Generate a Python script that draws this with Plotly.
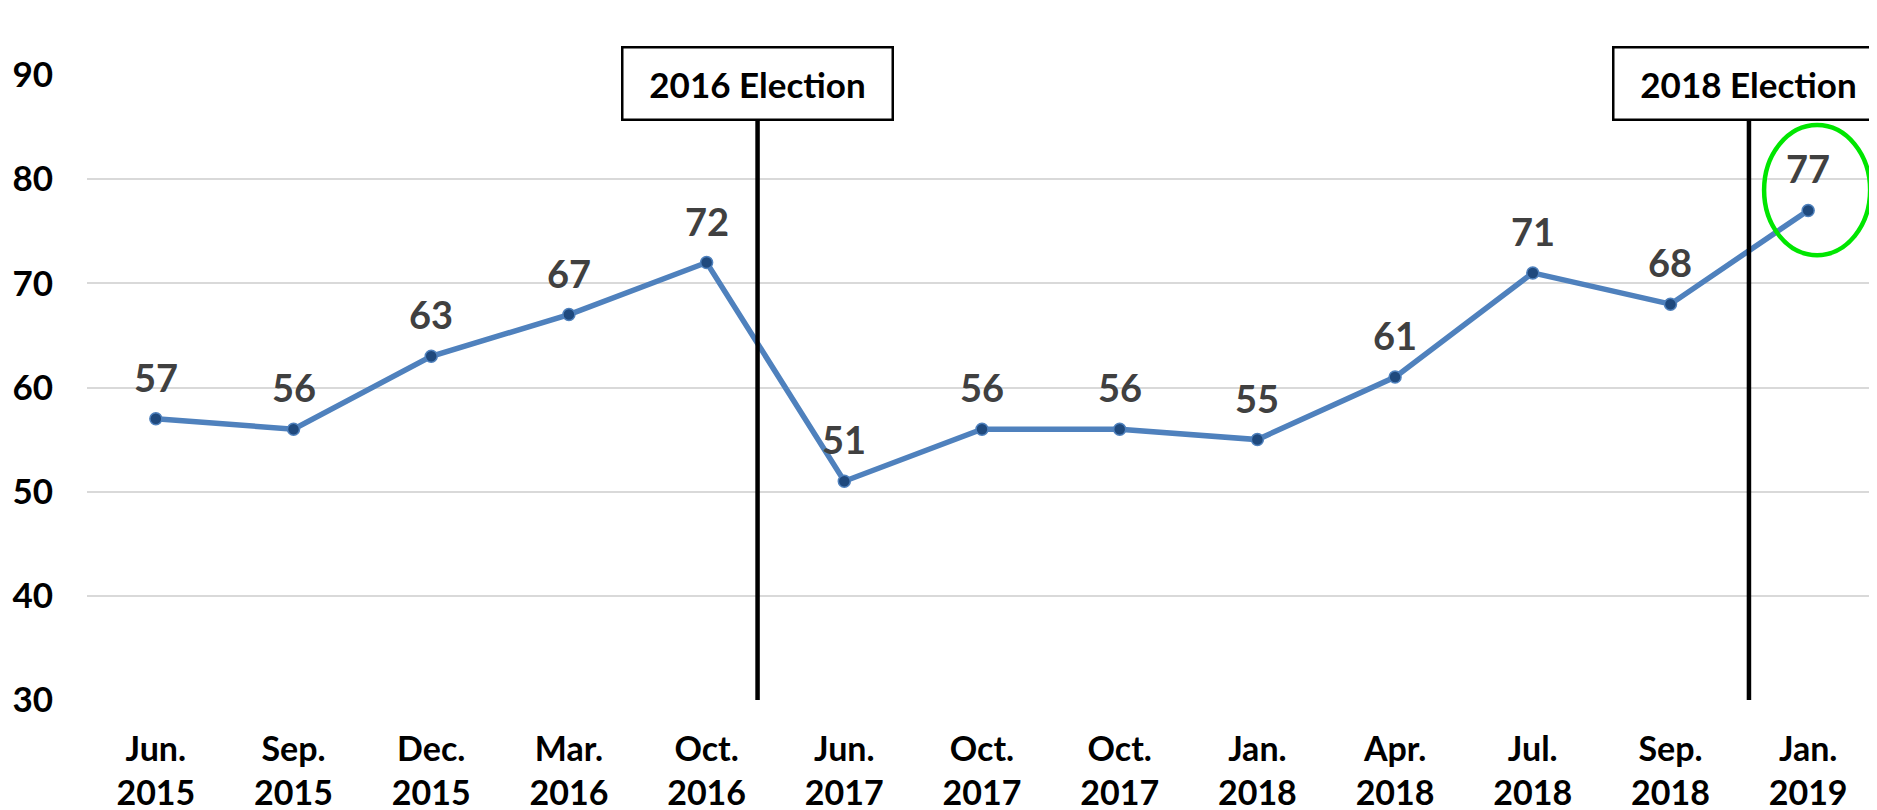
import plotly.graph_objects as go

# survey waves and values
months = ["Jun.", "Sep.", "Dec.", "Mar.", "Oct.", "Jun.", "Oct.", "Oct.",
          "Jan.", "Apr.", "Jul.", "Sep.", "Jan."]
years = ["2015", "2015", "2015", "2016", "2016", "2017", "2017", "2017",
         "2018", "2018", "2018", "2018", "2019"]
values = [57, 56, 63, 67, 72, 51, 56, 56, 55, 61, 71, 68, 77]

# elections fall between survey waves (fractional category position)
election_labels = ["2016 Election", "2018 Election"]
election_pos = [4.37, 11.57]

FONT = "Lato"
idx = list(range(len(values)))
ticktext = [f"{m}<br>{y}" for m, y in zip(months, years)]

fig = go.Figure()

fig.add_trace(go.Scatter(
    x=idx, y=values,
    mode="lines+markers",
    line=dict(color="#4F81BD", width=5.5),
    marker=dict(size=12, color="#1F497D", line=dict(color="#4F81BD", width=1.5)),
    showlegend=False,
    hoverinfo="skip",
))

# data labels above each point
for i, v in zip(idx, values):
    fig.add_annotation(
        x=i, y=v, text=str(v), showarrow=False, yshift=42,
        font=dict(family=FONT, size=38, color="#404040", weight="bold"),
    )

# election markers: vertical line + boxed label on top
for lab, pos in zip(election_labels, election_pos):
    fig.add_shape(type="line", xref="x", yref="paper", x0=pos, x1=pos, y0=0, y1=1,
                  line=dict(color="black", width=4.5))
    fig.add_annotation(
        x=pos, xref="x", y=1.0464, yref="paper", text=lab, showarrow=False,
        width=268, height=70, borderpad=0, borderwidth=2.5,
        bordercolor="black", bgcolor="white",
        font=dict(family=FONT, size=35, color="black", weight="bold"),
    )

# green ellipse highlighting the latest value
last = len(values) - 1
fig.add_shape(type="circle", xref="x", yref="y",
              x0=last - 0.32, x1=last + 0.45,
              y0=values[-1] - 4.3, y1=values[-1] + 8.2,
              line=dict(color="#00E600", width=4.5))

# page body adds an 8px margin, so the figure is a bit smaller than the window
fig.update_layout(
    width=1869, height=802,
    margin=dict(l=79, r=0, t=67, b=110),
    plot_bgcolor="white", paper_bgcolor="white",
    xaxis=dict(
        range=[-0.5, 12.5], tickmode="array", tickvals=idx, ticktext=ticktext,
        showgrid=False, zeroline=False, showline=False, ticks="",
        ticklabelstandoff=26, automargin=False,
        tickfont=dict(family=FONT, size=34, color="black", weight="bold"),
    ),
    yaxis=dict(
        range=[30, 90], dtick=10, showgrid=True, gridcolor="#D9D9D9", gridwidth=2,
        zeroline=False, showline=False, ticks="", ticklabelstandoff=33,
        automargin=False,
        tickfont=dict(family=FONT, size=35, color="black", weight="bold"),
    ),
)

fig.write_html("out.html")
